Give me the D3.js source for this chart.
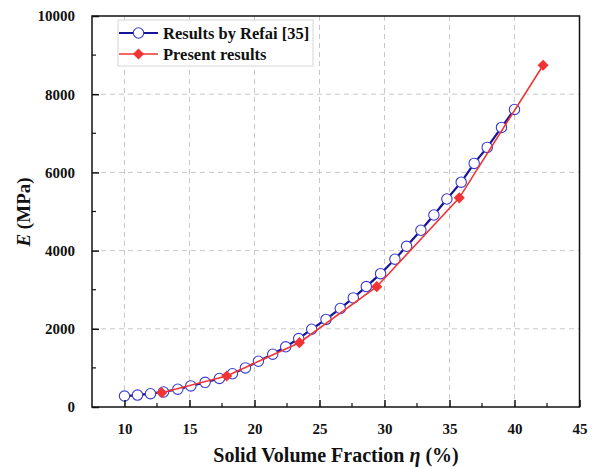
<!DOCTYPE html>
<html>
<head>
<meta charset="utf-8">
<script src="https://cdn.jsdelivr.net/npm/d3@7"></script>
<style>
  html, body { margin: 0; padding: 0; background: #fff; }
  svg { display: block; }
  text { font-family: "Liberation Serif", "Times New Roman", serif; font-weight: bold; fill: #111; }
</style>
</head>
<body>
<svg id="chart" width="595" height="467"></svg>
<script>
// Refai [35] reference data: solid volume fraction (%) and modulus (MPa)
const refaiEta = [10.0, 11.0, 12.0, 13.0, 14.1, 15.1, 16.2, 17.3, 18.3, 19.3,
                  20.3, 21.4, 22.4, 23.4, 24.4, 25.5, 26.6, 27.6, 28.6, 29.7,
                  30.8, 31.7, 32.8, 33.8, 34.8, 35.9, 36.9, 37.9, 39.0, 40.0];
const refaiE   = [280, 305, 340, 385, 455, 540, 630, 730, 850, 1000,
                  1170, 1350, 1540, 1750, 1990, 2240, 2520, 2790, 3080, 3410,
                  3780, 4110, 4520, 4910, 5320, 5750, 6230, 6640, 7150, 7610];

// Present results
const presentEta = [12.86, 17.86, 23.45, 29.4, 35.75, 42.2];
const presentE   = [366, 793, 1645, 3077, 5350, 8740];

// Axis ticks
const xTicks = [10, 15, 20, 25, 30, 35, 40, 45];
const xMinor = [12.5, 17.5, 22.5, 27.5, 32.5, 37.5, 42.5];
const yTicks = [0, 2000, 4000, 6000, 8000, 10000];
const yMinor = [1000, 3000, 5000, 7000, 9000];

const seriesNames = ["Results by Refai [35]", "Present results"];

const svg = d3.select("#chart");
const plotL = 92, plotR = 579.5, plotT = 16, plotB = 407;

const x = d3.scaleLinear().domain([7.5, 45]).range([plotL, plotR]);
const y = d3.scaleLinear().domain([0, 10000]).range([plotB, plotT]);

const blueLine = "#14149a", blueMark = "#3a3ad0", red = "#f03434";

// dashed grid at major ticks
const grid = svg.append("g").attr("stroke", "#c8c8c8").attr("stroke-width", 1)
  .attr("stroke-dasharray", "5,4");
grid.selectAll("line.gx").data(xTicks.filter(d => d < 45)).join("line").attr("class", "gx")
  .attr("x1", d => x(d)).attr("x2", d => x(d)).attr("y1", plotT).attr("y2", plotB);
grid.selectAll("line.gy").data(yTicks.filter(d => d > 0 && d < 10000)).join("line").attr("class", "gy")
  .attr("x1", plotL).attr("x2", plotR).attr("y1", d => y(d)).attr("y2", d => y(d));

// legend box
const lg = svg.append("g");
lg.append("rect").attr("x", 118).attr("y", 20).attr("width", 195).attr("height", 46)
  .attr("fill", "#fff").attr("stroke", "#d6d6d6").attr("stroke-width", 1);

// series lines and markers
const refaiData = refaiEta.map((d, i) => [d, refaiE[i]]);
const presentData = presentEta.map((d, i) => [d, presentE[i]]);
const line = d3.line().x(d => x(d[0])).y(d => y(d[1]));
const diamondPath = d3.symbol().type(d3.symbolSquare).size(62)();

svg.append("path").datum(refaiData).attr("d", line)
  .attr("fill", "none").attr("stroke", blueLine).attr("stroke-width", 2.2);
svg.append("g").selectAll("circle").data(refaiData).join("circle")
  .attr("cx", d => x(d[0])).attr("cy", d => y(d[1])).attr("r", 5.2)
  .attr("fill", "#fff").attr("stroke", blueMark).attr("stroke-width", 1.1);

svg.append("path").datum(presentData).attr("d", line)
  .attr("fill", "none").attr("stroke", red).attr("stroke-width", 1.6);
svg.append("g").selectAll("path").data(presentData).join("path")
  .attr("d", diamondPath)
  .attr("transform", d => `translate(${x(d[0])},${y(d[1])}) rotate(45)`)
  .attr("fill", red);

// legend entries
const rowY = [33, 54];
lg.append("line").attr("x1", 119).attr("x2", 158).attr("y1", rowY[0]).attr("y2", rowY[0])
  .attr("stroke", blueLine).attr("stroke-width", 2.2);
lg.append("circle").attr("cx", 138.5).attr("cy", rowY[0]).attr("r", 5.2)
  .attr("fill", "#fff").attr("stroke", blueMark).attr("stroke-width", 1.1);
lg.append("line").attr("x1", 119).attr("x2", 158).attr("y1", rowY[1]).attr("y2", rowY[1])
  .attr("stroke", red).attr("stroke-width", 1.6);
lg.append("path").attr("d", diamondPath)
  .attr("transform", `translate(138.5,${rowY[1]}) rotate(45)`).attr("fill", red);
lg.selectAll("text").data(seriesNames).join("text")
  .attr("x", 163).attr("y", (d, i) => rowY[i] + 5.5)
  .attr("font-size", 16.5).text(d => d);

// frame
svg.append("rect").attr("x", plotL).attr("y", plotT).attr("width", plotR - plotL).attr("height", plotB - plotT)
  .attr("fill", "none").attr("stroke", "#111").attr("stroke-width", 1.5);

// x axis (inward ticks)
const xAxis = svg.append("g").attr("transform", `translate(0,${plotB})`)
  .call(d3.axisBottom(x).tickValues(xTicks).tickSizeInner(-7).tickSizeOuter(0).tickPadding(16)
    .tickFormat(d3.format("d")));
xAxis.select(".domain").remove();
xAxis.selectAll("line").attr("stroke", "#111").attr("stroke-width", 1.5);
xAxis.selectAll("text").attr("font-size", 15).attr("font-family", "Liberation Serif").attr("font-weight", "bold").attr("fill", "#111");
svg.append("g").selectAll("line").data(xMinor).join("line")
  .attr("x1", d => x(d)).attr("x2", d => x(d)).attr("y1", plotB).attr("y2", plotB - 4)
  .attr("stroke", "#111").attr("stroke-width", 1.2);

// y axis (inward ticks)
const yAxis = svg.append("g").attr("transform", `translate(${plotL},0)`)
  .call(d3.axisLeft(y).tickValues(yTicks).tickSizeInner(-7).tickSizeOuter(0).tickPadding(17)
    .tickFormat(d3.format("d")));
yAxis.select(".domain").remove();
yAxis.selectAll("line").attr("stroke", "#111").attr("stroke-width", 1.5);
yAxis.selectAll("text").attr("font-size", 15).attr("font-family", "Liberation Serif").attr("font-weight", "bold").attr("fill", "#111");
svg.append("g").selectAll("line").data(yMinor).join("line")
  .attr("x1", plotL).attr("x2", plotL + 4).attr("y1", d => y(d)).attr("y2", d => y(d))
  .attr("stroke", "#111").attr("stroke-width", 1.2);

// axis titles
const xt = svg.append("text").attr("x", 336).attr("y", 462).attr("text-anchor", "middle").attr("font-size", 20);
xt.append("tspan").text("Solid Volume Fraction ");
xt.append("tspan").attr("font-style", "italic").text("η");
xt.append("tspan").text(" (%)");

const yt = svg.append("text").attr("transform", "translate(30,212) rotate(-90)")
  .attr("text-anchor", "middle").attr("font-size", 19);
yt.append("tspan").attr("font-style", "italic").text("E");
yt.append("tspan").text(" (MPa)");
</script>
</body>
</html>
